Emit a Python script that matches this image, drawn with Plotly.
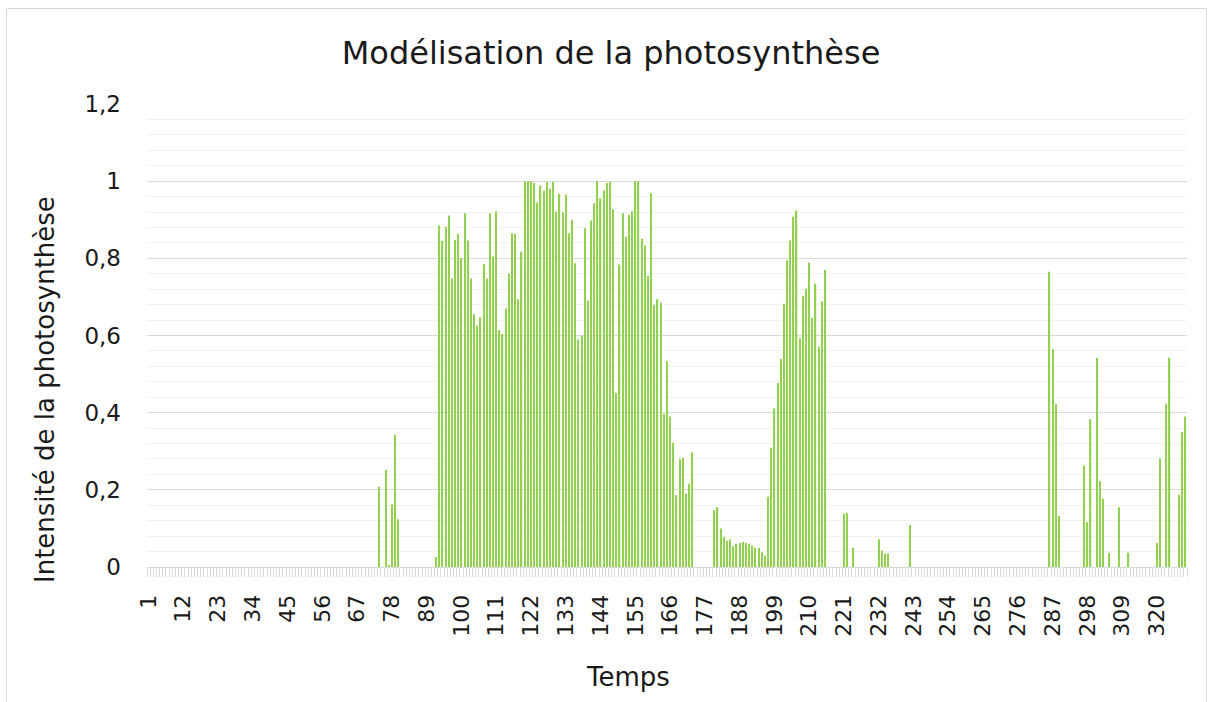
import plotly.graph_objects as go

# Données
temps = list(range(1, 330))
intensite = [
    0, 0, 0, 0, 0, 0, 0, 0, 0, 0,
    0, 0, 0, 0, 0, 0, 0, 0, 0, 0,
    0, 0, 0, 0, 0, 0, 0, 0, 0, 0,
    0, 0, 0, 0, 0, 0, 0, 0, 0, 0,
    0, 0, 0, 0, 0, 0, 0, 0, 0, 0,
    0, 0, 0, 0, 0, 0, 0, 0, 0, 0,
    0, 0, 0, 0, 0, 0, 0, 0, 0, 0,
    0, 0, 0, 0.208, 0, 0.252, 0.003, 0.162, 0.343, 0.124,
    0, 0, 0, 0, 0, 0, 0, 0, 0, 0,
    0, 0.026, 0.885, 0.845, 0.882, 0.911, 0.748, 0.848, 0.863, 0.801,
    0.917, 0.846, 0.748, 0.655, 0.625, 0.647, 0.785, 0.748, 0.917, 0.805,
    0.922, 0.614, 0.604, 0.670, 0.760, 0.865, 0.863, 0.694, 0.817, 1.0,
    1.0, 1.0, 0.995, 0.945, 0.989, 0.976, 0.998, 0.981, 0.998, 0.921,
    0.967, 0.919, 0.965, 0.865, 0.900, 0.787, 0.590, 0.600, 0.878, 0.690,
    0.898, 0.943, 1.0, 0.955, 0.976, 0.995, 0.998, 0.927, 0.451, 0.784,
    0.917, 0.856, 0.912, 0.922, 1.0, 1.0, 0.850, 0.834, 0.754, 0.969,
    0.680, 0.694, 0.685, 0.397, 0.533, 0.390, 0.322, 0.186, 0.280, 0.283,
    0.190, 0.216, 0.297, 0, 0, 0, 0, 0, 0, 0.147,
    0.155, 0.100, 0.078, 0.068, 0.072, 0.054, 0.060, 0.062, 0.065, 0.062,
    0.060, 0.055, 0.050, 0.049, 0.038, 0.030, 0.182, 0.309, 0.411, 0.477,
    0.539, 0.682, 0.795, 0.846, 0.908, 0.924, 0.593, 0.702, 0.721, 0.789,
    0.646, 0.734, 0.571, 0.689, 0.770, 0, 0, 0, 0, 0,
    0.138, 0.140, 0, 0.050, 0, 0, 0, 0, 0, 0,
    0, 0.072, 0.043, 0.035, 0.035, 0, 0, 0, 0, 0,
    0, 0.109, 0, 0, 0, 0, 0, 0, 0, 0,
    0, 0, 0, 0, 0, 0, 0, 0, 0, 0,
    0, 0, 0, 0, 0, 0, 0, 0, 0, 0,
    0, 0, 0, 0, 0, 0, 0, 0, 0, 0,
    0, 0, 0, 0, 0, 0.765, 0.565, 0.422, 0.132, 0,
    0, 0, 0, 0, 0, 0, 0.263, 0.116, 0.383, 0,
    0.542, 0.222, 0.177, 0, 0.036, 0, 0, 0.155, 0, 0,
    0.037, 0, 0, 0, 0, 0, 0, 0, 0, 0.062,
    0.281, 0, 0.423, 0.542, 0, 0, 0.187, 0.350, 0.390,
]
tick_labels_x = list(range(1, 330, 11))
y_ticks = [0, 0.2, 0.4, 0.6, 0.8, 1.0, 1.2]

titre = "Modélisation de la photosynthèse"
titre_x = "Temps"
titre_y = "Intensité de la photosynthèse"

FONT = "'DejaVu Sans', sans-serif"
TXT = "#1a1a1a"

fig = go.Figure(go.Bar(
    x=temps, y=intensite,
    marker=dict(color="#92D050", line=dict(width=0)),
))

W, H = 1213, 702
L, R, T, B = 147, 1187, 104, 567
pw, ph = R - L, B - T

def px_x(x):
    return (x - L) / pw

def px_y(y):
    return (B - y) / ph

fig.update_layout(
    width=W, height=H,
    margin=dict(l=L, r=W - R, t=T, b=H - B),
    paper_bgcolor="white", plot_bgcolor="white",
    separators=", ",
    bargap=0.6,
    showlegend=False,
    font=dict(family=FONT, color=TXT),
    title=dict(text=titre, x=611 / W, xanchor="center", xref="container",
               y=1 - 53 / H, yanchor="middle", yref="container",
               font=dict(size=32, family=FONT, color=TXT)),
    xaxis=dict(
        range=[0.5, 329.5],
        tickmode="array", tickvals=tick_labels_x,
        ticktext=[str(v) for v in tick_labels_x],
        tickangle=-90, tickfont=dict(size=22, color=TXT),
        showgrid=False, zeroline=False,
        ticks="", ticklabelstandoff=18,
        showline=True, linecolor="#D9D9D9", linewidth=1,
        minor=dict(tick0=0.5, dtick=1, ticks="outside", ticklen=9,
                   tickcolor="#D9D9D9", tickwidth=1, showgrid=False),
    ),
    yaxis=dict(
        range=[0, 1.2],
        tickmode="array", tickvals=y_ticks,
        tickfont=dict(size=23, color=TXT),
        showgrid=True, gridcolor="#D9D9D9", gridwidth=1,
        zeroline=False, ticks="", ticklabelstandoff=25,
        minor=dict(dtick=0.04, tick0=0, showgrid=True,
                   gridcolor="#F2F2F2", gridwidth=1),
    ),
    annotations=[
        dict(text=titre_x, x=px_x(628), y=px_y(677), xref="paper", yref="paper",
             showarrow=False, font=dict(size=26, family=FONT, color=TXT),
             xanchor="center", yanchor="middle"),
        dict(text=titre_y, x=px_x(45), y=px_y(390), xref="paper", yref="paper",
             showarrow=False, textangle=-90,
             font=dict(size=26, family=FONT, color=TXT),
             xanchor="center", yanchor="middle"),
    ],
    shapes=[
        dict(type="rect", xref="paper", yref="paper",
             x0=px_x(6.5), x1=px_x(1206.5), y0=px_y(710), y1=px_y(8.5),
             line=dict(color="#D9D9D9", width=1), fillcolor="rgba(0,0,0,0)",
             layer="below"),
    ],
)

fig.write_html("out.html",
               config={"displayModeBar": False},
               post_script="document.body.style.margin='0';document.body.style.padding='0';")
